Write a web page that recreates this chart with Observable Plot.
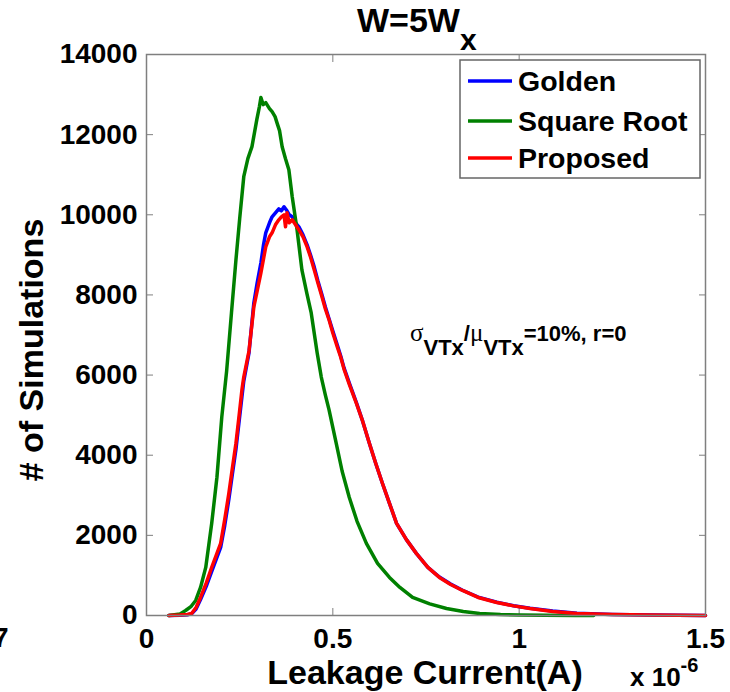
<!DOCTYPE html>
<html><head><meta charset="utf-8">
<script src="https://cdn.jsdelivr.net/npm/d3@7"></script>
<script src="https://cdn.jsdelivr.net/npm/@observablehq/plot@0.6"></script>
<style>body{margin:0;background:#fff} svg{display:block}</style>
</head><body><div id="chart"></div>
<script>
// Leakage current in units of 1e-6 A
const seriesNames = ["Golden", "Square Root", "Proposed"];
const seriesColors = ["#0000ff", "#008000", "#ff0000"];

const squareRootX = [0.06, 0.09, 0.105, 0.12, 0.132, 0.145, 0.159, 0.175, 0.189, 0.202, 0.215, 0.228, 0.240, 0.250, 0.261, 0.272, 0.283, 0.296, 0.303, 0.307, 0.313, 0.320, 0.330, 0.337, 0.345, 0.350, 0.357, 0.364, 0.373, 0.382, 0.391, 0.404, 0.417, 0.430, 0.442, 0.458, 0.469, 0.480, 0.490, 0.509, 0.525, 0.544, 0.565, 0.590, 0.620, 0.652, 0.680, 0.714, 0.760, 0.805, 0.850, 0.894, 0.95, 1.0, 1.07, 1.15, 1.2];
const squareRootY = [0, 40, 125, 230, 375, 700, 1200, 2300, 3450, 4950, 6100, 7550, 8875, 9900, 10950, 11400, 11700, 12375, 12700, 12925, 12750, 12800, 12650, 12575, 12450, 12300, 12100, 11700, 11400, 11125, 10450, 9625, 8625, 8050, 7550, 6550, 5950, 5500, 5125, 4300, 3600, 2950, 2350, 1800, 1300, 950, 700, 450, 290, 175, 100, 50, 25, 15, 5, 2, 0];

const proposedX = [0.06, 0.09, 0.11, 0.121, 0.133, 0.145, 0.160, 0.175, 0.187, 0.199, 0.210, 0.221, 0.230, 0.240, 0.248, 0.256, 0.261, 0.275, 0.288, 0.297, 0.307, 0.314, 0.320, 0.330, 0.337, 0.346, 0.355, 0.362, 0.369, 0.373, 0.377, 0.383, 0.391, 0.400, 0.409, 0.420, 0.431, 0.440, 0.450, 0.460, 0.471, 0.480, 0.490, 0.500, 0.512, 0.521, 0.530, 0.545, 0.563, 0.580, 0.598, 0.615, 0.633, 0.652, 0.671, 0.697, 0.724, 0.755, 0.786, 0.815, 0.848, 0.890, 0.940, 0.985, 1.029, 1.09, 1.155, 1.25, 1.35, 1.5];
const proposedY = [0, 10, 25, 50, 200, 450, 800, 1200, 1500, 1800, 2400, 3050, 3650, 4300, 4950, 5625, 5950, 6600, 7700, 8100, 8550, 8900, 9200, 9450, 9550, 9750, 9875, 9950, 10000, 9700, 10050, 9800, 9875, 9750, 9625, 9450, 9200, 8950, 8625, 8300, 7950, 7650, 7375, 7050, 6700, 6450, 6150, 5750, 5300, 4850, 4300, 3800, 3300, 2800, 2300, 1900, 1550, 1200, 950, 780, 625, 450, 325, 240, 175, 100, 50, 25, 10, 0];

const goldenX = proposedX;
const goldenY = [0, 5, 20, 40, 160, 400, 720, 1100, 1400, 1700, 2250, 2900, 3500, 4150, 4800, 5450, 5850, 6550, 7800, 8300, 8800, 9250, 9550, 9800, 9950, 10050, 10150, 10100, 10200, 10150, 10100, 10000, 9950, 9800, 9700, 9500, 9250, 9000, 8700, 8350, 8000, 7700, 7400, 7100, 6750, 6480, 6180, 5780, 5320, 4850, 4300, 3800, 3300, 2800, 2300, 1900, 1550, 1200, 960, 790, 630, 460, 330, 245, 180, 110, 55, 28, 12, 0];

const xTicks = [0, 0.5, 1, 1.5];
const yTicks = [0, 2000, 4000, 6000, 8000, 10000, 12000, 14000];

const titleMain = "W=5W", titleSub = "x";
const xLabel = "Leakage Current(A)";
const yLabel = "# of Simulations";
const annotation = "=10%, r=0";

const allSeries = [[goldenX, goldenY], [squareRootX, squareRootY], [proposedX, proposedY]];
const rows = allSeries.flatMap(([xs, ys], k) => xs.map((x, i) => ({series: seriesNames[k], x, y: ys[i]})));

const FONT = "'Liberation Sans', Arial, Helvetica, sans-serif";

const plot = Plot.plot({
  width: 730, height: 692,
  marginLeft: 146, marginRight: 25, marginTop: 54, marginBottom: 77,
  style: {fontFamily: FONT, fontWeight: "bold", background: "#fff", color: "#000"},
  x: {domain: [0, 1.5]},
  y: {domain: [0, 14000]},
  color: {domain: seriesNames, range: seriesColors},
  marks: [
    Plot.axisX(xTicks, {anchor: "bottom", tickSize: 0, tickPadding: 13, fontSize: 28, label: null, tickFormat: d => String(d)}),
    Plot.axisY(yTicks, {anchor: "left", tickSize: 0, tickPadding: 9, fontSize: 28, label: null, tickFormat: d3.format("d")}),
    Plot.axisX(xTicks, {anchor: "bottom", tickSize: -7, text: null, label: null, stroke: "#7f7f7f"}),
    Plot.axisX(xTicks, {anchor: "top", tickSize: -7, text: null, label: null, stroke: "#7f7f7f"}),
    Plot.axisY(yTicks, {anchor: "left", tickSize: -7, text: null, label: null, stroke: "#7f7f7f"}),
    Plot.axisY(yTicks, {anchor: "right", tickSize: -7, text: null, label: null, stroke: "#7f7f7f"}),
    Plot.line(rows, {x: "x", y: "y", z: "series", stroke: "series", strokeWidth: 3.5, strokeLinejoin: "round"}),
    Plot.frame({stroke: "#7f7f7f", strokeWidth: 1.5})
  ]
});
document.getElementById("chart").appendChild(plot);

const svg = d3.select(plot);
function txt(x, y, size) {
  return svg.append("text").attr("x", x).attr("y", y).attr("text-anchor", "start")
    .attr("font-family", FONT).attr("font-weight", "bold").attr("font-size", size).attr("fill", "#000");
}
// Title
const t = txt(357, 32, 34);
t.append("tspan").text(titleMain);
t.append("tspan").attr("dy", 18).attr("font-size", 30).text(titleSub);

// X label
txt(425, 684, 34).attr("text-anchor", "middle").text(xLabel);
// exponent
const e = txt(630, 686, 26);
e.append("tspan").text("x 10");
e.append("tspan").attr("dy", -14).attr("font-size", 20).text("-6");

// Y label
svg.append("text").attr("transform", "translate(43,350) rotate(-90)").attr("text-anchor", "middle")
  .attr("font-family", FONT).attr("font-weight", "bold").attr("font-size", 34).attr("fill", "#000").text(yLabel);

// cut-off glyph from neighbouring panel
txt(-7, 647, 28).text("7");

// Annotation
const a = txt(410, 341, 22);
a.append("tspan").attr("font-weight", "normal").attr("font-family", "'Liberation Serif', serif").attr("font-size", 25).text("σ");
a.append("tspan").attr("dy", 14).text("VTx");
a.append("tspan").attr("dy", -14).text("/");
a.append("tspan").attr("font-weight", "normal").attr("font-family", "'Liberation Serif', serif").attr("font-size", 25).text("μ");
a.append("tspan").attr("dy", 14).text("VTx");
a.append("tspan").attr("dy", -14).text(annotation);

// Legend
const lg = svg.append("g");
lg.append("rect").attr("x", 460).attr("y", 60).attr("width", 240).attr("height", 118).attr("fill", "#fff").attr("stroke", "#666").attr("stroke-width", 1.5);
const rowY = [81, 121, 158];
seriesNames.forEach((n, i) => {
  lg.append("line").attr("x1", 468).attr("x2", 512).attr("y1", rowY[i]).attr("y2", rowY[i]).attr("stroke", seriesColors[i]).attr("stroke-width", 3.5);
  lg.append("text").attr("x", 518).attr("y", rowY[i] + 10).attr("text-anchor", "start").attr("font-family", FONT)
    .attr("font-weight", "bold").attr("font-size", 28.5).attr("fill", "#000").text(n);
});
</script>
</body></html>
